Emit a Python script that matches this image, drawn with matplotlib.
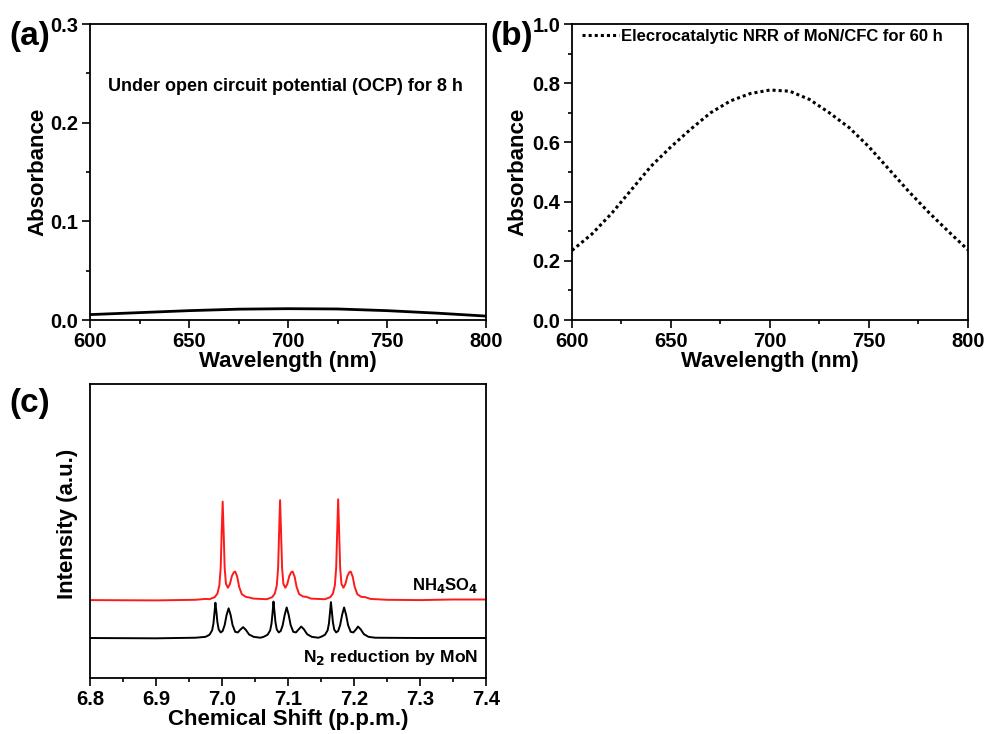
import matplotlib.pyplot as plt
from matplotlib.ticker import MultipleLocator

plt.rcParams["font.family"] = ["Liberation Sans", "DejaVu Sans"]
plt.rcParams["font.weight"] = "bold"
plt.rcParams["mathtext.default"] = "bf"

# (a) UV-vis under OCP
wl_a = [600, 625, 650, 675, 700, 725, 750, 775, 800]
abs_a = [0.0055, 0.0075, 0.0095, 0.011, 0.0115, 0.0112, 0.0095, 0.007, 0.004]

# (b) UV-vis after NRR
wl_b = [600, 610, 620, 630, 640, 650, 660, 670, 680, 690, 700,
        710, 720, 730, 740, 750, 760, 770, 780, 790, 800]
abs_b = [0.235, 0.29, 0.36, 0.44, 0.52, 0.585, 0.645, 0.70, 0.74, 0.765, 0.777,
         0.773, 0.745, 0.70, 0.65, 0.585, 0.51, 0.435, 0.365, 0.30, 0.237]

# (c) 1H NMR
shift_red = [6.800, 6.900, 6.960, 6.975,
             6.981, 6.989, 6.993, 6.996, 6.998, 6.9995, 7.001, 7.0025, 7.004, 7.006,
             7.009, 7.012, 7.015, 7.018, 7.020, 7.023, 7.026, 7.030, 7.036, 7.041, 7.048,
             7.068, 7.076, 7.080, 7.083, 7.085, 7.0865, 7.088, 7.0895, 7.091, 7.093,
             7.096, 7.099, 7.102, 7.105, 7.107, 7.110, 7.113, 7.117, 7.123, 7.128, 7.135,
             7.156, 7.164, 7.168, 7.171, 7.173, 7.1745, 7.176, 7.1775, 7.179, 7.181,
             7.184, 7.187, 7.190, 7.193, 7.195, 7.198, 7.201, 7.205, 7.211, 7.217, 7.225,
             7.250, 7.300, 7.350, 7.400]
int_red = [2.65, 2.64, 2.66, 2.69,
           2.68, 2.75, 2.87, 3.15, 3.75, 4.95, 6.00, 4.95, 3.75, 3.20,
           3.07, 3.20, 3.47, 3.60, 3.62, 3.45, 3.10, 2.85, 2.76, 2.74, 2.70,
           2.68, 2.75, 2.87, 3.15, 3.75, 4.95, 6.05, 4.95, 3.75, 3.20,
           3.07, 3.20, 3.47, 3.60, 3.62, 3.45, 3.10, 2.85, 2.77, 2.76, 2.70,
           2.68, 2.75, 2.87, 3.15, 3.75, 4.95, 6.08, 4.95, 3.75, 3.20,
           3.07, 3.20, 3.47, 3.60, 3.62, 3.45, 3.10, 2.85, 2.76, 2.75, 2.69,
           2.66, 2.65, 2.67, 2.67]

shift_black = [6.800, 6.900, 6.960, 6.975,
               6.981, 6.985, 6.987, 6.9885, 6.990, 6.9915, 6.993, 6.995, 6.998, 7.001,
               7.004, 7.007, 7.010, 7.013, 7.016, 7.020, 7.024, 7.028, 7.032, 7.036,
               7.041, 7.048, 7.058,
               7.063, 7.069, 7.073, 7.075, 7.0765, 7.078, 7.0795, 7.081, 7.083, 7.086,
               7.089, 7.092, 7.095, 7.098, 7.101, 7.104, 7.108, 7.112, 7.116, 7.120,
               7.124, 7.129, 7.136, 7.146,
               7.150, 7.156, 7.160, 7.162, 7.1635, 7.165, 7.1665, 7.168, 7.170, 7.173,
               7.176, 7.179, 7.182, 7.185, 7.188, 7.191, 7.195, 7.199, 7.203, 7.206,
               7.210, 7.215, 7.222, 7.232, 7.300, 7.400]
int_black = [1.36, 1.35, 1.37, 1.40,
             1.47, 1.62, 1.85, 2.20, 2.56, 2.25, 1.90, 1.65, 1.55, 1.60,
             1.80, 2.15, 2.37, 2.15, 1.80, 1.57, 1.55, 1.65, 1.73, 1.64,
             1.48, 1.40, 1.37,
             1.40, 1.47, 1.62, 1.85, 2.20, 2.60, 2.25, 1.90, 1.65, 1.55,
             1.60, 1.80, 2.15, 2.40, 2.15, 1.80, 1.57, 1.55, 1.65, 1.75,
             1.66, 1.49, 1.40, 1.37,
             1.40, 1.47, 1.62, 1.85, 2.20, 2.58, 2.25, 1.90, 1.65, 1.55,
             1.60, 1.80, 2.15, 2.40, 2.15, 1.80, 1.57, 1.55, 1.65, 1.75,
             1.66, 1.49, 1.40, 1.37, 1.36, 1.36]

fig = plt.figure(figsize=(9.87, 7.34), dpi=100)
ax_a = fig.add_axes([0.0912, 0.564, 0.4012, 0.4033])
ax_b = fig.add_axes([0.5795, 0.564, 0.4012, 0.4033])
ax_c = fig.add_axes([0.0912, 0.0763, 0.4012, 0.4005])

TICK_FS = 14.5
LABEL_FS = 16


def style(ax):
    for s in ax.spines.values():
        s.set_linewidth(1.3)
    ax.tick_params(which="both", direction="out", width=1.2, labelsize=TICK_FS,
                   top=False, right=False, pad=3)
    ax.tick_params(which="major", length=5.5)
    ax.tick_params(which="minor", length=3)


# panel a
ax_a.plot(wl_a, abs_a, color="black", lw=2)
ax_a.set_xlim(600, 800)
ax_a.set_ylim(0, 0.3)
ax_a.xaxis.set_major_locator(MultipleLocator(50))
ax_a.xaxis.set_minor_locator(MultipleLocator(25))
ax_a.yaxis.set_major_locator(MultipleLocator(0.1))
ax_a.yaxis.set_minor_locator(MultipleLocator(0.05))
ax_a.set_xlabel("Wavelength (nm)", fontsize=LABEL_FS, fontweight="bold", labelpad=0)
ax_a.set_ylabel("Absorbance", fontsize=LABEL_FS, fontweight="bold", labelpad=1)
ax_a.text(0.045, 0.79, "Under open circuit potential (OCP) for 8 h", transform=ax_a.transAxes,
          fontsize=13, fontweight="bold", va="center")
style(ax_a)

# panel b
ax_b.plot(wl_b, abs_b, color="black", lw=2.2, ls=(0, (1, 1)),
          label="Elecrocatalytic NRR of MoN/CFC for 60 h")
ax_b.set_xlim(600, 800)
ax_b.set_ylim(0, 1.0)
ax_b.xaxis.set_major_locator(MultipleLocator(50))
ax_b.xaxis.set_minor_locator(MultipleLocator(25))
ax_b.yaxis.set_major_locator(MultipleLocator(0.2))
ax_b.yaxis.set_minor_locator(MultipleLocator(0.1))
ax_b.set_xlabel("Wavelength (nm)", fontsize=LABEL_FS, fontweight="bold", labelpad=0)
ax_b.set_ylabel("Absorbance", fontsize=LABEL_FS, fontweight="bold", labelpad=3)
ax_b.legend(loc="upper left", bbox_to_anchor=(0.017, 0.995), frameon=False, handlelength=2.2,
            handletextpad=0.15, borderaxespad=0, borderpad=0.2,
            prop={"weight": "bold", "size": 12})
style(ax_b)

# panel c
ax_c.plot(shift_red, int_red, color="#ff1a1a", lw=1.4)
ax_c.plot(shift_black, int_black, color="black", lw=1.4)
ax_c.set_xlim(6.8, 7.4)
ax_c.set_ylim(0, 10)
ax_c.xaxis.set_major_locator(MultipleLocator(0.1))
ax_c.xaxis.set_minor_locator(MultipleLocator(0.05))
ax_c.set_yticks([])
ax_c.set_xlabel("Chemical Shift (p.p.m.)", fontsize=LABEL_FS, fontweight="bold", labelpad=0)
ax_c.set_ylabel("Intensity (a.u.)", fontsize=LABEL_FS, fontweight="bold")
ax_c.yaxis.set_label_coords(-0.03, 0.525)
ax_c.text(0.98, 0.315, "NH$_4$SO$_4$", transform=ax_c.transAxes,
          fontsize=12, fontweight="bold", ha="right", va="center")
ax_c.text(0.98, 0.07, "N$_2$ reduction by MoN", transform=ax_c.transAxes,
          fontsize=12.6, fontweight="bold", ha="right", va="center")
style(ax_c)

fig.text(0.010, 0.950, "(a)", fontsize=24, fontweight="bold", va="center")
fig.text(0.497, 0.950, "(b)", fontsize=24, fontweight="bold", va="center")
fig.text(0.010, 0.450, "(c)", fontsize=24, fontweight="bold", va="center")

fig.savefig("out.png", dpi=100)
